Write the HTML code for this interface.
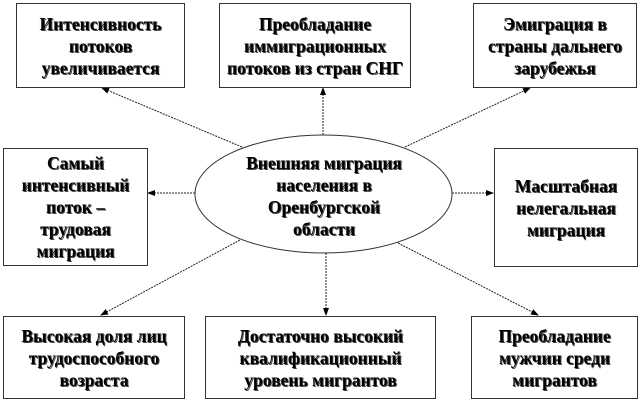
<!DOCTYPE html><html><head><meta charset="utf-8"><style>
body{margin:0;width:642px;height:402px;background:#fff;position:relative;overflow:hidden;font-family:"Liberation Serif",serif;}
.b{position:absolute;border:1px solid #333;box-sizing:border-box;display:flex;align-items:center;justify-content:center;text-align:center;font-weight:bold;font-size:17.5px;line-height:22px;color:#000;text-shadow:1px 1px 0 #444;white-space:nowrap;}
svg{position:absolute;left:0;top:0}
</style></head><body>
<svg width="642" height="402"><defs><marker id="a" markerWidth="8" markerHeight="8" refX="7" refY="4" orient="auto"><path d="M0,1 L8,4 L0,7z" fill="#000"/></marker></defs>
<g stroke="#222" stroke-width="1" stroke-dasharray="2,1" marker-end="url(#a)">
<line x1="242" y1="147" x2="102" y2="88"/>
<line x1="323" y1="135" x2="323" y2="88"/>
<line x1="405" y1="147" x2="530" y2="88"/>
<line x1="195" y1="193" x2="148" y2="193"/>
<line x1="452" y1="193" x2="493" y2="193"/>
<line x1="240" y1="240" x2="101" y2="315"/>
<line x1="326" y1="253" x2="326" y2="315"/>
<line x1="398" y1="243" x2="538" y2="315"/>
</g>
<ellipse cx="323.5" cy="194" rx="128.5" ry="59" fill="#fff" stroke="#333"/>
<g font-family="Liberation Serif,serif" font-weight="bold" font-size="17.5" text-anchor="middle">
<text x="324" y="169" fill="#444" transform="translate(1,1)"><tspan x="324">Внешняя миграция</tspan><tspan x="324" dy="22">населения в</tspan><tspan x="324" dy="22">Оренбургской</tspan><tspan x="324" dy="22">области</tspan></text>
<text x="324" y="169"><tspan x="324">Внешняя миграция</tspan><tspan x="324" dy="22">населения в</tspan><tspan x="324" dy="22">Оренбургской</tspan><tspan x="324" dy="22">области</tspan></text>
</g>
</svg>
<div class="b" style="left:16px;top:3px;width:169px;height:85px">Интенсивность<br>потоков<br>увеличивается</div>
<div class="b" style="left:219px;top:3px;width:192px;height:85px">Преобладание<br>иммиграционных<br>потоков из стран СНГ</div>
<div class="b" style="left:473px;top:3px;width:164px;height:85px">Эмиграция в<br>страны дальнего<br>зарубежья</div>
<div class="b" style="left:3px;top:148px;width:145px;height:118px">Самый<br>интенсивный<br>поток –<br>трудовая<br>миграция</div>
<div class="b" style="left:494px;top:148px;width:144px;height:119px">Масштабная<br>нелегальная<br>миграция</div>
<div class="b" style="left:3px;top:316px;width:182px;height:83px">Высокая доля лиц<br>трудоспособного<br>возраста</div>
<div class="b" style="left:205px;top:316px;width:231px;height:83px">Достаточно высокий<br>квалификационный<br>уровень мигрантов</div>
<div class="b" style="left:471px;top:316px;width:167px;height:83px">Преобладание<br>мужчин среди<br>мигрантов</div>
</body></html>
